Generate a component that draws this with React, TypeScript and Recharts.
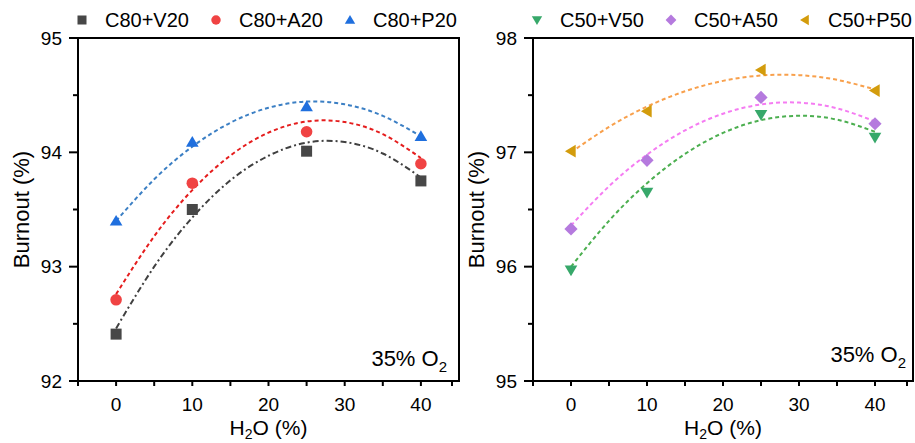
import { ComposedChart, Line, Scatter, XAxis, YAxis, ReferenceArea } from "recharts";

// measured points, x = H2O (%)
const H2O = [0, 10, 25, 40];
const V20 = [92.41, 93.5, 94.01, 93.75];
const A20 = [92.71, 93.73, 94.18, 93.9];
const P20 = [93.4, 94.09, 94.4, 94.14];
const V50 = [95.97, 96.65, 97.33, 97.13];
const A50 = [96.33, 96.93, 97.48, 97.25];
const P50 = [97.01, 97.36, 97.72, 97.54];

// fitted curves, every 5 %
const FIT_X = [0, 5, 10, 15, 20, 25, 30, 35, 40];
const V20_FIT = [92.46, 93.0, 93.43, 93.755, 93.97, 94.085, 94.09, 93.99, 93.78];
const A20_FIT = [92.76, 93.266, 93.67, 93.972, 94.172, 94.27, 94.265, 94.159, 93.95];
const P20_FIT = [93.4, 93.764, 94.05, 94.259, 94.39, 94.444, 94.42, 94.319, 94.14];
const V50_FIT = [96.0, 96.401, 96.73, 96.986, 97.17, 97.281, 97.32, 97.286, 97.18];
const A50_FIT = [96.36, 96.703, 96.98, 97.192, 97.338, 97.419, 97.435, 97.385, 97.27];
const P50_FIT = [97.0, 97.222, 97.4, 97.534, 97.625, 97.672, 97.675, 97.634, 97.55];

const X_TICKS = [-5, 0, 5, 10, 15, 20, 25, 30, 35, 40, 45];
const Y_TICKS_80 = [92, 92.5, 93, 93.5, 94, 94.5, 95];
const Y_TICKS_50 = [95, 95.5, 96, 96.5, 97, 97.5, 98];

const FONT = '"Liberation Sans", Arial, sans-serif';

type Kind = "square" | "circle" | "up" | "down" | "diamond" | "left";

interface Series {
  name: string;
  kind: Kind;
  color: string;
  lineColor: string;
  dash: string;
  values: number[];
  fit: number[];
}

const LEFT_SERIES: Series[] = [
  { name: "C80+V20", kind: "square", color: "#474747", lineColor: "#404040", dash: "6 3 2 3", values: V20, fit: V20_FIT },
  { name: "C80+A20", kind: "circle", color: "#f04343", lineColor: "#e51d1d", dash: "4 3", values: A20, fit: A20_FIT },
  { name: "C80+P20", kind: "up", color: "#1f6fde", lineColor: "#3b7fc4", dash: "4 3", values: P20, fit: P20_FIT },
];

const RIGHT_SERIES: Series[] = [
  { name: "C50+V50", kind: "down", color: "#37a86a", lineColor: "#4caf50", dash: "4 3", values: V50, fit: V50_FIT },
  { name: "C50+A50", kind: "diamond", color: "#b57ade", lineColor: "#f57cf2", dash: "4 3", values: A50, fit: A50_FIT },
  { name: "C50+P50", kind: "left", color: "#d39c0c", lineColor: "#f8a04c", dash: "4 3", values: P50, fit: P50_FIT },
];

function Marker({ kind, cx, cy, size, color }: { kind: Kind; cx: number; cy: number; size: number; color: string }) {
  const r = size / 2;
  switch (kind) {
    case "square":
      return <rect x={cx - r} y={cy - r} width={size} height={size} fill={color} />;
    case "circle":
      return <circle cx={cx} cy={cy} r={r * 1.05} fill={color} />;
    case "up":
      return <polygon points={`${cx},${cy - r * 1.1} ${cx + r * 1.15},${cy + r * 0.85} ${cx - r * 1.15},${cy + r * 0.85}`} fill={color} />;
    case "down":
      return <polygon points={`${cx},${cy + r * 1.1} ${cx + r * 1.15},${cy - r * 0.85} ${cx - r * 1.15},${cy - r * 0.85}`} fill={color} />;
    case "left":
      return <polygon points={`${cx - r * 1.1},${cy} ${cx + r * 0.85},${cy - r * 1.15} ${cx + r * 0.85},${cy + r * 1.15}`} fill={color} />;
    default:
      return <polygon points={`${cx},${cy - r * 1.2} ${cx + r * 1.2},${cy} ${cx},${cy + r * 1.2} ${cx - r * 1.2},${cy}`} fill={color} />;
  }
}

// tickSize 9 + tickMargin 7 -> axis line sits 16px right of props.x
function YTick(props: any) {
  const { x, y, payload } = props;
  const axisX = x + 16;
  const v = payload.value;
  const major = Number.isInteger(v);
  return (
    <g>
      <line x1={axisX - (major ? 9 : 5)} x2={axisX} y1={y} y2={y} stroke="#000" strokeWidth={2} />
      {major && (
        <text x={axisX - 16} y={y + 6.5} textAnchor="end" fontSize={19} fill="#000" fontFamily={FONT}>
          {v}
        </text>
      )}
    </g>
  );
}

// tickSize 5 + tickMargin 14 -> axis line sits 19px above props.y
function XTick(props: any) {
  const { x, y, payload } = props;
  const axisY = y - 19;
  const v = payload.value;
  return (
    <g>
      <line x1={x} x2={x} y1={axisY} y2={axisY + 5} stroke="#000" strokeWidth={2} />
      {v % 10 === 0 && (
        <text x={x} y={axisY + 30} textAnchor="middle" fontSize={19} fill="#000" fontFamily={FONT}>
          {v}
        </text>
      )}
    </g>
  );
}

function YTitle(props: any) {
  const { viewBox } = props;
  const cx = viewBox.x + 29;
  const cy = viewBox.y + viewBox.height / 2;
  return (
    <text x={cx} y={cy} transform={`rotate(-90 ${cx} ${cy})`} textAnchor="middle" fontSize={22} fill="#000" fontFamily={FONT}>
      Burnout (%)
    </text>
  );
}

function XTitle(props: any) {
  const { viewBox } = props;
  return (
    <text x={viewBox.x + viewBox.width / 2} y={viewBox.y + 54} textAnchor="middle" fontSize={21} fill="#000" fontFamily={FONT}>
      <tspan>H</tspan>
      <tspan dy={4} fontSize={14}>2</tspan>
      <tspan dy={-4}>O (%)</tspan>
    </text>
  );
}

function O2Note(props: any) {
  const { viewBox, dx, dy } = props;
  return (
    <text
      x={viewBox.x + viewBox.width - dx}
      y={viewBox.y + viewBox.height - dy}
      textAnchor="end"
      fontSize={22}
      fill="#000"
      fontFamily={FONT}
    >
      <tspan>35% O</tspan>
      <tspan dy={6} fontSize={15}>2</tspan>
    </text>
  );
}

function LegendRow({ series }: { series: Series[] }) {
  return (
    <div style={{ position: "absolute", left: 70, top: 6, display: "flex", fontFamily: FONT }}>
      {series.map((s) => (
        <div key={s.name} style={{ width: 134, display: "flex", alignItems: "center", height: 28 }}>
          <svg width={24} height={24}>
            <Marker kind={s.kind} cx={12} cy={12} size={9} color={s.color} />
          </svg>
          <span style={{ marginLeft: 11, fontSize: 20, color: "#000", whiteSpace: "nowrap" }}>{s.name}</span>
        </div>
      ))}
    </div>
  );
}

interface PanelProps {
  left: number;
  right: number;
  series: Series[];
  yDomain: [number, number];
  yTicks: number[];
  noteDx: number;
  noteDy: number;
}

function Panel({ left, right, series, yDomain, yTicks, noteDx, noteDy }: PanelProps) {
  return (
    <div style={{ position: "absolute", left, top: 0, width: 460, height: 443 }}>
      <ComposedChart width={460} height={443} margin={{ top: 38, right, bottom: 0, left: 0 }}>
        <XAxis
          type="number"
          dataKey="x"
          domain={[-5, 45]}
          ticks={X_TICKS}
          allowDataOverflow
          height={62}
          tickSize={5}
          tickMargin={14}
          tickLine={false}
          tick={<XTick />}
          axisLine={{ stroke: "#000", strokeWidth: 2 }}
          label={<XTitle />}
        />
        <YAxis
          type="number"
          dataKey="y"
          domain={yDomain}
          ticks={yTicks}
          allowDataOverflow
          width={78}
          tickSize={9}
          tickMargin={7}
          tickLine={false}
          tick={<YTick />}
          axisLine={{ stroke: "#000", strokeWidth: 2 }}
          label={<YTitle />}
        />
        <ReferenceArea
          x1={-5}
          x2={45}
          y1={yDomain[0]}
          y2={yDomain[1]}
          fill="none"
          stroke="#000"
          strokeWidth={2}
          ifOverflow="visible"
          label={<O2Note dx={noteDx} dy={noteDy} />}
        />
        {series.map((s) => (
          <Line
            key={s.name + "-fit"}
            data={FIT_X.map((x, i) => ({ x, y: s.fit[i] }))}
            dataKey="y"
            type="natural"
            stroke={s.lineColor}
            strokeWidth={2}
            strokeDasharray={s.dash}
            dot={false}
            activeDot={false}
            legendType="none"
            isAnimationActive={false}
          />
        ))}
        {series.map((s) => (
          <Scatter
            key={s.name}
            name={s.name}
            data={H2O.map((x, i) => ({ x, y: s.values[i] }))}
            dataKey="y"
            isAnimationActive={false}
            shape={(p: any) => <Marker kind={s.kind} cx={p.cx} cy={p.cy} size={11} color={s.color} />}
          />
        ))}
      </ComposedChart>
      <LegendRow series={series} />
    </div>
  );
}

export default function App() {
  return (
    <div style={{ position: "absolute", left: 0, top: 0, width: 915, height: 443, background: "#fff", fontFamily: FONT }}>
      <Panel left={0} right={1} series={LEFT_SERIES} yDomain={[92, 95]} yTicks={Y_TICKS_80} noteDx={12} noteDy={15} />
      <Panel left={455} right={2} series={RIGHT_SERIES} yDomain={[95, 98]} yTicks={Y_TICKS_50} noteDx={7} noteDy={19} />
    </div>
  );
}
